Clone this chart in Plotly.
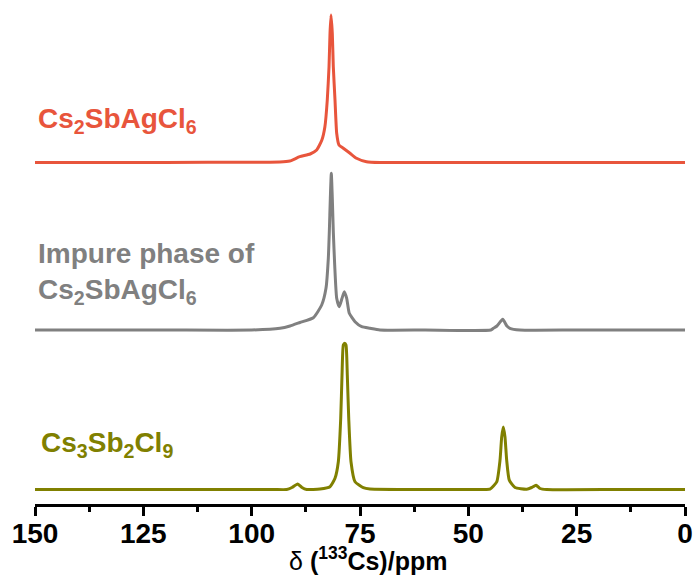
import plotly.graph_objects as go

# ---- data ----
# chemical shift (ppm) and intensity (arbitrary units, baseline = 0)
red_ppm = [150, 120, 100, 93.5, 91.2, 88.9, 86.5, 85.0, 83.8, 83.1, 82.55, 82.15, 81.92,
           81.69, 81.39, 81.16, 80.77, 80.38, 79.85, 78.85, 77.3, 75.8, 73.5, 70.4, 50, 25, 0]
red_int = [0, 0, 0.3, 0.5, 1.5, 5.8, 8.5, 12.5, 22.5, 35.8, 62.5, 95.8, 129.2,
           147.5, 129.2, 95.8, 62.5, 29.2, 17.5, 14.2, 9.2, 4.2, 0.8, 0, 0, 0, 0]

grey_ppm = [150, 120, 100, 93.46, 91.15, 88.85, 85.77, 83.84, 82.85, 82.31, 82.08, 81.85,
            81.62, 81.39, 81.16, 80.84, 80.38, 79.78, 79.15, 78.62, 78.07, 77.47, 76.15,
            74.6, 72.7, 70.4, 60, 44.8, 44.23, 43.4, 42.07, 41.1, 40.4, 38.1, 25, 0]
grey_int = [0, 0, 0, 1.7, 4, 7.5, 12.3, 25, 41.7, 71.7, 98.3, 131.7,
            156.7, 131.7, 98.3, 65, 31.7, 23.3, 31.7, 38.3, 31.7, 16.7, 8.3,
            3.3, 1.7, 0, 0, 0, 1.7, 4, 10.7, 4, 1.7, 0, 0, 0]

olive_ppm = [150, 120, 95, 91.92, 90.7, 89.38, 88.4, 87.3, 84.23, 81.92, 80.77, 80.0,
             79.45, 79.15, 78.85, 78.53, 78.23, 77.93, 77.6, 77.08, 76.15, 74.24, 72.7,
             60, 46, 45.0, 43.45, 42.69, 42.3, 41.93, 41.54, 41.15, 40.55, 39.23, 36.53,
             35.38, 34.38, 33.46, 31.92, 15, 0]
olive_int = [0, 0, 0, 0, 2, 5.5, 2, 0, 0.5, 2.8, 11.2, 27.8,
             71.2, 114.5, 144.5, 146.2, 144.5, 114.5, 71.2, 27.8, 7.8, 1.8, 0.5,
             0, 0, 0.3, 7.6, 29.3, 52.6, 62.6, 52.6, 29.3, 9.3, 2, 0.3,
             2, 4.3, 1, 0, 0, 0]

# vertical stacking offsets of the three spectra
red_offset = 341.5
grey_offset = 174
olive_offset = 14.5

tick_vals = [150, 125, 100, 75, 50, 25, 0]
tick_text = ["150", "125", "100", "75", "50", "25", "0"]
x_title = "δ <b>(<sup>133</sup>Cs)/ppm</b>"

RED = "#E8553C"
GREY = "#808080"
OLIVE = "#808000"

fig = go.Figure()
for xs, ys, off, col in [(red_ppm, red_int, red_offset, RED),
                         (grey_ppm, grey_int, grey_offset, GREY),
                         (olive_ppm, olive_int, olive_offset, OLIVE)]:
    fig.add_trace(go.Scatter(
        x=xs, y=[v + off for v in ys], mode="lines",
        line=dict(color=col, width=3, shape="spline", smoothing=0.5),
        showlegend=False, hoverinfo="skip"))

W, H = 699, 578
ML, MR, MT, MB = 35, 14, 10, 74
PW, PH = W - ML - MR, H - MT - MB


def px_x(px):
    return (px - ML) / PW


def px_y(py):
    return (H - MB - py) / PH


label_font = dict(family="Liberation Sans, Arial, sans-serif", size=28)

annotations = [
    dict(text="<b>Cs<sub>2</sub>SbAgCl<sub>6</sub></b>", x=px_x(36), y=px_y(120),
         font=dict(color=RED, **label_font)),
    dict(text="<b>Impure phase of<br>Cs<sub>2</sub>SbAgCl<sub>6</sub></b>", x=px_x(36), y=px_y(274),
         font=dict(color=GREY, **label_font), align="left"),
    dict(text="<b>Cs<sub>3</sub>Sb<sub>2</sub>Cl<sub>9</sub></b>", x=px_x(39), y=px_y(444),
         font=dict(color=OLIVE, **label_font)),
]
for a in annotations:
    a.update(xref="paper", yref="paper", xanchor="left", yanchor="middle", showarrow=False)

# x-axis title, placed as a text block under the tick labels
annotations.append(dict(
    text=x_title, xref="paper", yref="paper", x=px_x(368), y=px_y(559),
    xanchor="center", yanchor="middle", showarrow=False,
    font=dict(family="Liberation Sans, Arial, sans-serif", size=25, color="black")))

fig.update_layout(
    width=W, height=H,
    margin=dict(l=ML, r=MR, t=MT, b=MB, autoexpand=False),
    paper_bgcolor="white", plot_bgcolor="white",
    annotations=annotations,
    xaxis=dict(
        range=[150, 0], tickvals=tick_vals, ticktext=tick_text,
        automargin=False,
        ticks="outside", ticklen=9, tickwidth=2.5, tickcolor="black",
        showline=True, linewidth=2.5, linecolor="black",
        showgrid=False, zeroline=False,
        ticklabelstandoff=-6,
        tickfont=dict(family="Liberation Sans, Arial, sans-serif",
                      size=28, color="black", weight="bold"),
        minor=dict(dtick=12.5, tick0=0, ticks="outside", ticklen=5, tickwidth=2.5,
                   tickcolor="black", showgrid=False),
        fixedrange=True,
    ),
    yaxis=dict(visible=False, range=[0, PH], fixedrange=True, automargin=False),
)

fig.write_html("out.html")
